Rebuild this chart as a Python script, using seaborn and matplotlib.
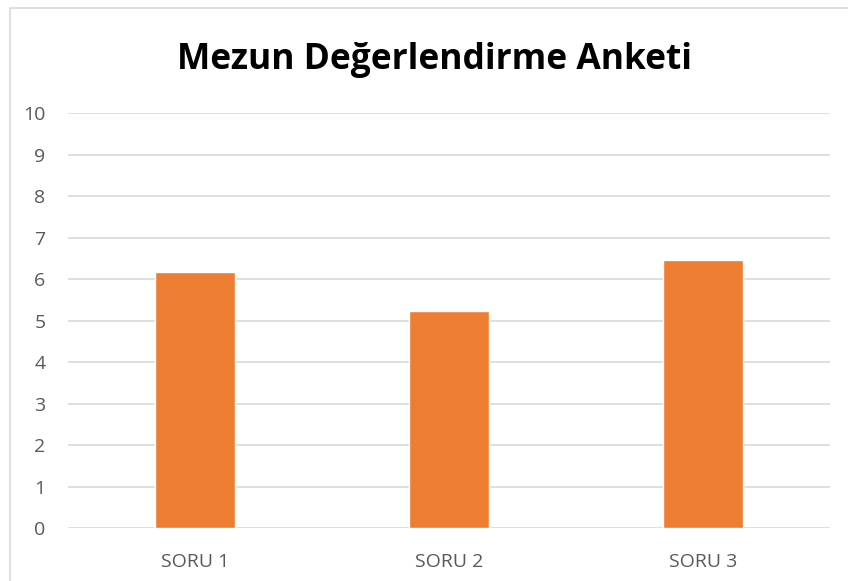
import matplotlib
matplotlib.use('Agg')
import matplotlib.pyplot as plt
import matplotlib.patches as mpatches
import pandas as pd
import seaborn as sns

# values
sorular = ['SORU 1', 'SORU 2', 'SORU 3']
puanlar = [6.18, 5.22, 6.45]
y_ticks = list(range(0, 11))

df = pd.DataFrame({'Soru': sorular, 'Puan': puanlar})

sns.set_theme(style='white')
plt.rcParams['font.family'] = ['Open Sans', 'DejaVu Sans']

fig = plt.figure(figsize=(8.48, 5.81), dpi=100)
ax = fig.add_axes([0.080, 0.0912, 0.899, 0.7143])

sns.barplot(x='Soru', y='Puan', data=df, color='#ED7D31', width=0.315,
            saturation=1, ax=ax, zorder=3)

ax.set_ylim(0, 10)
ax.set_yticks(y_ticks)
ax.set_xlabel('')
ax.set_ylabel('')
ax.grid(axis='y', color='#d9d9d9', linewidth=1.2, zorder=0)
ax.set_axisbelow(True)
for s in ax.spines.values():
    s.set_visible(False)
ax.tick_params(axis='both', length=0, labelsize=14, colors='#595959')
ax.tick_params(axis='y', pad=16)
ax.tick_params(axis='x', pad=18)

fig.text(0.512, 0.897, 'Mezun Değerlendirme Anketi', ha='center', va='center',
         fontsize=25.5, fontweight='bold', color='black')

# chart border like the spreadsheet frame
fig.patches.append(mpatches.Rectangle((10 / 848, -0.05), 1.2, 1 - 8 / 581 + 0.05,
                                      transform=fig.transFigure, fill=False,
                                      edgecolor='#d9d9d9', linewidth=1.2))

fig.savefig('out.png', dpi=100)
